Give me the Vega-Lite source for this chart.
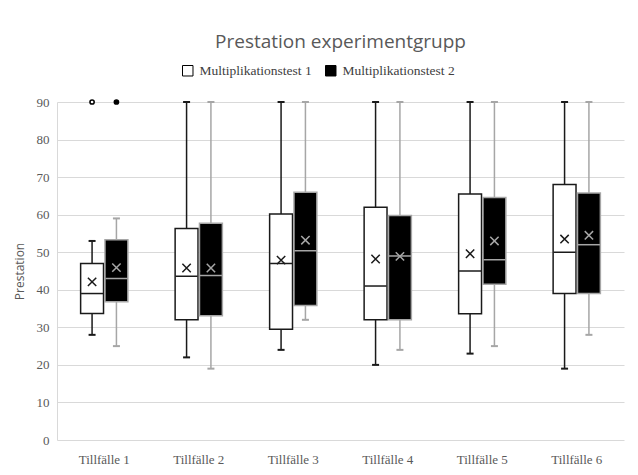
{
  "$schema": "https://vega.github.io/schema/vega-lite/v6.json",
  "width": 567,
  "height": 338,
  "autosize": {"type": "none"},
  "padding": {"left": 57, "top": 102, "right": 14, "bottom": 35},
  "background": "white",
  "title": {
    "text": "Prestation experimentgrupp",
    "font": "Open Sans",
    "fontSize": 19,
    "fontWeight": "normal",
    "color": "#595959",
    "anchor": "middle",
    "offset": 12
  },
  "datasets": {
    "stats": [
      {"t": "Tillfälle 1", "test": "Multiplikationstest 1", "low": 28, "q1": 33.7, "median": 39, "q3": 47, "high": 53, "mean": 42.1},
      {"t": "Tillfälle 1", "test": "Multiplikationstest 2", "low": 25, "q1": 36.8, "median": 43, "q3": 53.3, "high": 59, "mean": 45.9},
      {"t": "Tillfälle 2", "test": "Multiplikationstest 1", "low": 22, "q1": 32, "median": 43.6, "q3": 56.3, "high": 90, "mean": 45.8},
      {"t": "Tillfälle 2", "test": "Multiplikationstest 2", "low": 19, "q1": 33.1, "median": 43.8, "q3": 57.7, "high": 90, "mean": 45.8},
      {"t": "Tillfälle 3", "test": "Multiplikationstest 1", "low": 24, "q1": 29.5, "median": 47, "q3": 60.2, "high": 90, "mean": 47.9},
      {"t": "Tillfälle 3", "test": "Multiplikationstest 2", "low": 32, "q1": 35.8, "median": 50.4, "q3": 66, "high": 90, "mean": 53.2},
      {"t": "Tillfälle 4", "test": "Multiplikationstest 1", "low": 20, "q1": 32, "median": 41, "q3": 62, "high": 90, "mean": 48.2},
      {"t": "Tillfälle 4", "test": "Multiplikationstest 2", "low": 24, "q1": 32, "median": 49, "q3": 59.8, "high": 90, "mean": 48.9},
      {"t": "Tillfälle 5", "test": "Multiplikationstest 1", "low": 23, "q1": 33.6, "median": 45, "q3": 65.5, "high": 90, "mean": 49.6},
      {"t": "Tillfälle 5", "test": "Multiplikationstest 2", "low": 25, "q1": 41.5, "median": 48, "q3": 64.6, "high": 90, "mean": 53},
      {"t": "Tillfälle 6", "test": "Multiplikationstest 1", "low": 19, "q1": 39, "median": 50, "q3": 68, "high": 90, "mean": 53.5},
      {"t": "Tillfälle 6", "test": "Multiplikationstest 2", "low": 28, "q1": 39, "median": 52, "q3": 65.8, "high": 90, "mean": 54.5}
    ],
    "outliers": [
      {"t": "Tillfälle 1", "test": "Multiplikationstest 1", "value": 90},
      {"t": "Tillfälle 1", "test": "Multiplikationstest 2", "value": 90}
    ]
  },
  "data": {"name": "stats"},
  "encoding": {
    "x": {
      "field": "t", "type": "nominal", "title": null,
      "scale": {"paddingInner": 0.5, "paddingOuter": 0.25},
      "axis": {"labelAngle": 0, "ticks": false, "domain": false, "labelFont": "Liberation Serif", "labelFontSize": 13, "labelColor": "#595959", "labelPadding": 13}
    },
    "xOffset": {"field": "test", "type": "nominal", "scale": {"paddingInner": 0.06}}
  },
  "layer": [
    {
      "mark": {"type": "rule", "strokeWidth": 1.5},
      "encoding": {
        "y": {"field": "low", "type": "quantitative", "title": "Prestation",
          "scale": {"domain": [0, 90], "nice": false}},
        "y2": {"field": "high"},
        "stroke": {"field": "test", "type": "nominal", "scale": {"range": ["#1a1a1a", "#a6a6a6"]}, "legend": null}
      }
    },
    {
      "mark": {"type": "bar", "strokeWidth": 1.5},
      "encoding": {
        "y": {"field": "q1", "type": "quantitative"},
        "y2": {"field": "q3"},
        "fill": {"field": "test", "type": "nominal", "title": null,
          "scale": {"range": ["#ffffff", "#000000"]},
          "legend": {"orient": "none", "direction": "horizontal", "legendX": 124, "legendY": -38, "symbolType": "square", "symbolSize": 110, "symbolStrokeColor": "#000000", "symbolStrokeWidth": 1, "symbolOpacity": 1, "labelFont": "Liberation Serif", "labelFontSize": 13.5, "labelColor": "#404040", "columnPadding": 11, "labelOffset": 5}},
        "stroke": {"field": "test", "type": "nominal", "legend": null}
      }
    },
    {
      "mark": {"type": "tick", "size": 22, "thickness": 1.5, "opacity": 1},
      "encoding": {
        "y": {"field": "median", "type": "quantitative"},
        "color": {"field": "test", "type": "nominal", "scale": {"range": ["#1a1a1a", "#a6a6a6"]}, "legend": null}
      }
    },
    {
      "mark": {"type": "tick", "size": 7, "thickness": 2, "opacity": 1},
      "encoding": {
        "y": {"field": "high", "type": "quantitative"},
        "color": {"field": "test", "type": "nominal", "legend": null}
      }
    },
    {
      "mark": {"type": "tick", "size": 7, "thickness": 2, "opacity": 1},
      "encoding": {
        "y": {"field": "low", "type": "quantitative"},
        "color": {"field": "test", "type": "nominal", "legend": null}
      }
    },
    {
      "mark": {"type": "point", "shape": "M-1,-1L1,1M1,-1L-1,1", "size": 70, "filled": false, "strokeWidth": 1.5, "opacity": 1},
      "encoding": {
        "y": {"field": "mean", "type": "quantitative"},
        "stroke": {"field": "test", "type": "nominal", "legend": null}
      }
    },
    {
      "data": {"name": "outliers"},
      "mark": {"type": "point", "size": 18, "strokeWidth": 1.5, "opacity": 1},
      "encoding": {
        "y": {"field": "value", "type": "quantitative"},
        "stroke": {"value": "#000000"},
        "fill": {"field": "test", "type": "nominal", "legend": null}
      }
    }
  ],
  "config": {
    "view": {"stroke": null},
    "axis": {"gridColor": "#d9d9d9"},
    "axisY": {"values": [0,10,20,30,40,50,60,70,80,90], "tickCount": 9, "labelOverlap": false, "ticks": false, "domain": true, "domainColor": "#d9d9d9", "gridColor": "#d9d9d9", "labelFont": "Liberation Serif", "labelFontSize": 13, "labelColor": "#595959", "labelPadding": 8, "titleFont": "Open Sans", "titleFontSize": 12, "titleFontWeight": "normal", "titleColor": "#595959", "titlePadding": 10}
  }
}
